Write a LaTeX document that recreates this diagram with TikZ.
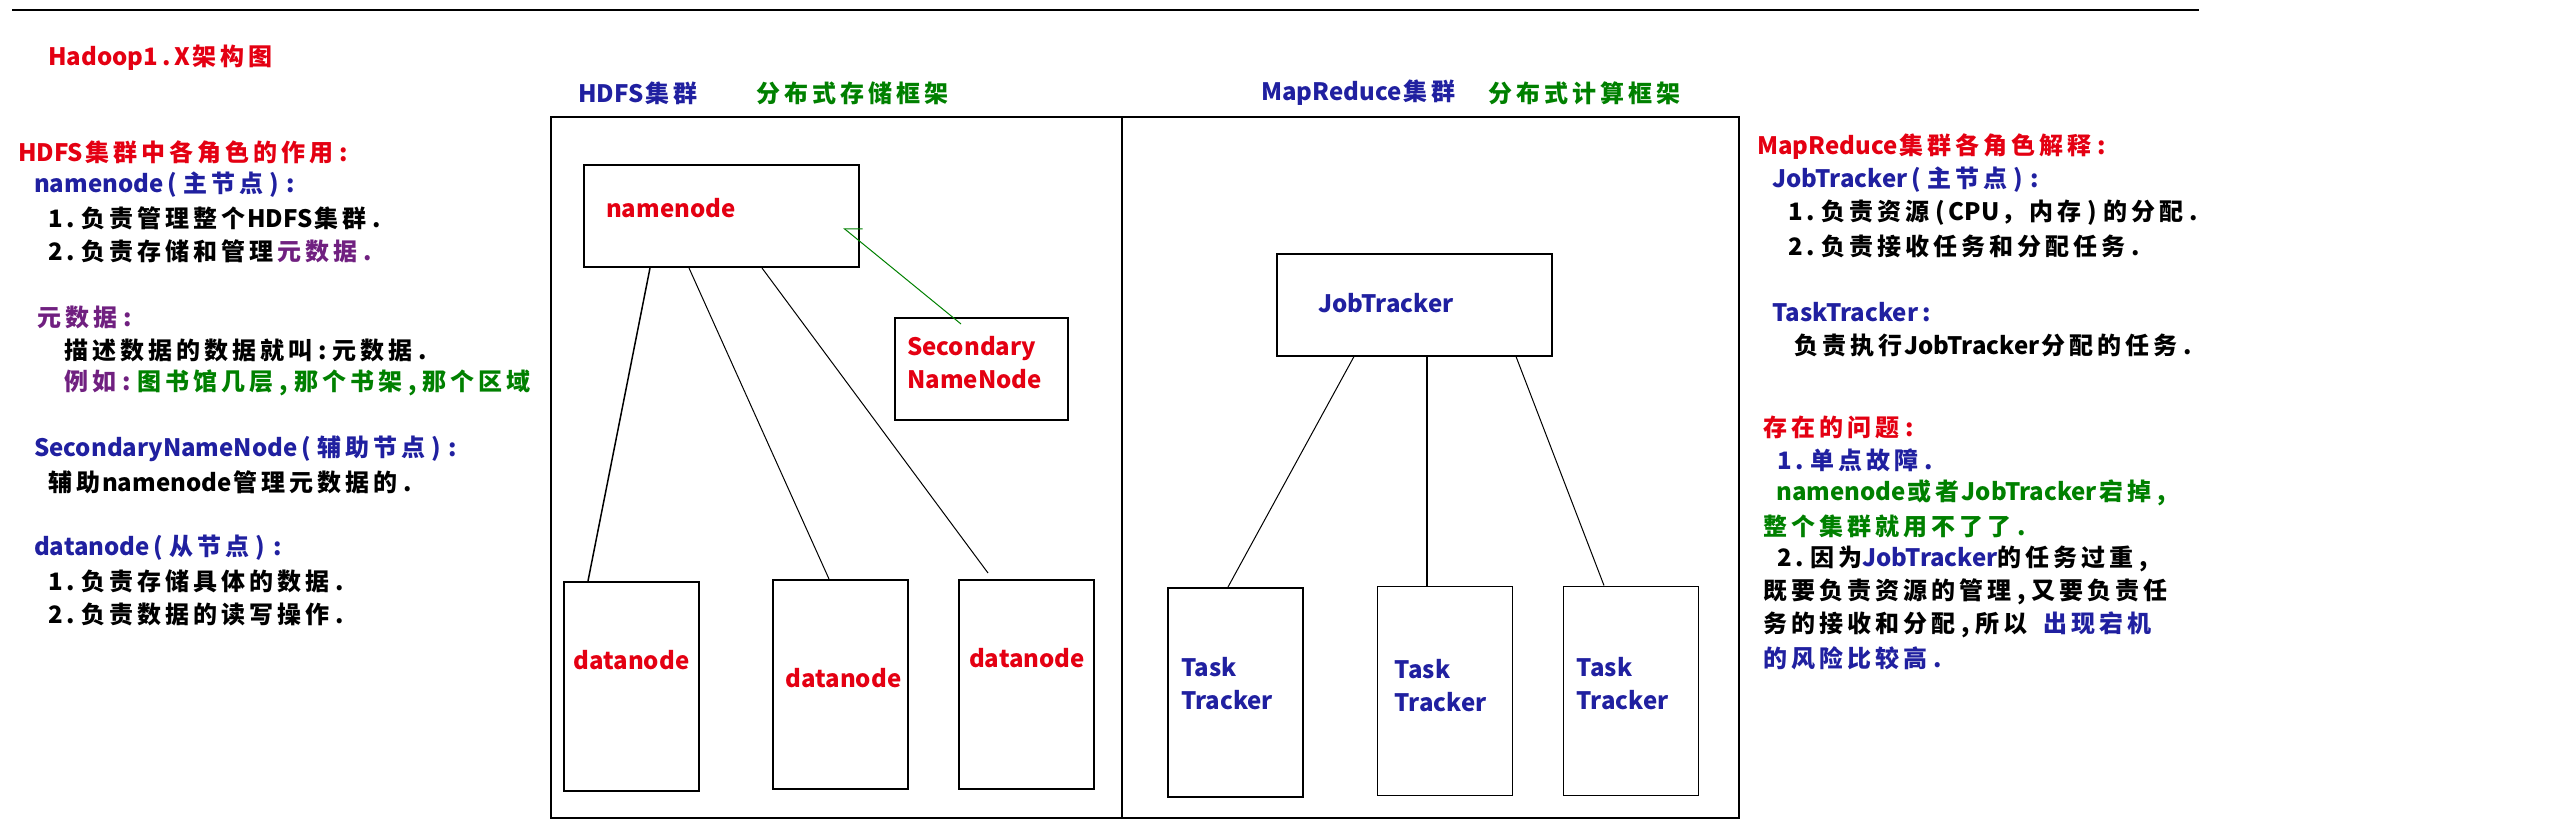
\documentclass[tikz,border=0pt]{standalone}
\usepackage{fontspec}
\setmainfont{Noto Sans CJK SC}
\usetikzlibrary{arrows.meta}
\definecolor{hdred}{RGB}{228,0,18}
\definecolor{hdblue}{RGB}{32,32,160}
\definecolor{hdgreen}{RGB}{0,128,0}
\definecolor{hdpurple}{RGB}{112,32,128}

% wider cells for the Chinese characters and the punctuation
\chardef\hanclass=7
\chardef\punclass=8
\count255="3000
\loop
  \XeTeXcharclass\count255=\hanclass
  \advance\count255 by 1
  \ifnum\count255<"3040 \repeat
\count255="4E00
\loop
  \XeTeXcharclass\count255=\hanclass
  \advance\count255 by 1
  \ifnum\count255<"A000 \repeat
\count255="FF00
\loop
  \XeTeXcharclass\count255=\hanclass
  \advance\count255 by 1
  \ifnum\count255<"FFF0 \repeat
\XeTeXcharclass`\,=\punclass
\XeTeXcharclass`\.=\punclass
\XeTeXcharclass`\:=\punclass
\XeTeXcharclass`\(=\punclass
\XeTeXcharclass`\)=\punclass
\XeTeXinterchartokenstate=1
\XeTeXinterchartoks 0 \hanclass = {\kern2pt}
\XeTeXinterchartoks \hanclass 0 = {\kern2pt}
\XeTeXinterchartoks \hanclass \hanclass = {\kern4pt}
\XeTeXinterchartoks 0 \punclass = {\kern4pt}
\XeTeXinterchartoks \punclass 0 = {\kern4pt}
\XeTeXinterchartoks \hanclass \punclass = {\kern6pt}
\XeTeXinterchartoks \punclass \hanclass = {\kern6pt}
\XeTeXinterchartoks \punclass \punclass = {\kern8pt}

\begin{document}
\begin{tikzpicture}
    [
        x=1pt, y=-1pt,
        every node/.style={font=\bfseries\fontsize{24}{33}\selectfont},
        role/.style={rectangle, draw, line width=2pt, inner sep=0pt},
        master/.style={role, minimum width=275pt, minimum height=102pt},
        worker/.style={role, minimum width=135pt, minimum height=209pt},
        lbl/.style={inner sep=0pt},
        txt/.style={lbl, anchor=west},
        link/.style={line width=1pt},
        hint/.style={hdgreen, line width=1pt, -{Straight Barb[right, angle=78:18pt]}},
    ]
    \useasboundingbox (0,0) rectangle (2560,836);
    \draw [line width=2.5pt] (12,10) -- (2199,10);

    % the two clusters
    \draw [line width=2pt] (551,117) rectangle (1739,818);
    \draw [line width=2pt] (1122,117) -- (1122,818);
    \node (hdfs) at (578,93) [txt, hdblue] {HDFS集群};
    \node (hdfsnote) at (756,93) [txt, hdgreen] {分布式存储框架};
    \node (mr) at (1261,93) [txt, hdblue] {MapReduce集群};
    \node (mrnote) at (1488,93) [txt, hdgreen] {分布式计算框架};

    % HDFS
    \node (nn) at (721.5,216) [master] {};
    \node (snn) at (981.5,369) [role, minimum width=173pt, minimum height=102pt] {};
    \node (dn1) at (631.5,686.5) [worker] {};
    \node (dn2) at (840.5,684.5) [worker] {};
    \node (dn3) at (1026.5,684.5) [worker] {};
    \node (nnlbl) at (606,208) [txt, hdred] {namenode};
    \node (snnlbl) at (907,363) [txt, hdred, align=left] {Secondary\\NameNode};
    \node (dn1lbl) at (631.5,660) [lbl, hdred] {datanode};
    \node (dn2lbl) at (843.5,678) [lbl, hdred] {datanode};
    \node (dn3lbl) at (1027,658) [lbl, hdred] {datanode};
    \draw [line width=1.5pt] ([xshift=-71.5pt]nn.south) -- ([xshift=-43.5pt]dn1.north);
    \draw [link] ([xshift=-32.5pt]nn.south) -- ([xshift=-11.5pt]dn2.north);
    \draw [link] ([xshift=40.5pt]nn.south) -- ([xshift=-38.5pt, yshift=6pt]dn3.north);
    \coordinate (nnhook) at (843.5,228);
    \draw [hint] ([xshift=-20.5pt, yshift=-7pt]snn.north) -- (nnhook);

    % MapReduce
    \node (jt) at (1414,304.5) [master] {};
    \node (tt1) at (1235.5,692.5) [worker] {};
    \node (tt2) at (1444.5,690.5) [worker, line width=1pt] {};
    \node (tt3) at (1631,690.5) [worker, line width=1pt] {};
    \node (jtlbl) at (1318,303) [txt, hdblue] {JobTracker};
    \node (tt1lbl) at (1181,683.5) [txt, hdblue, align=left] {Task\\Tracker};
    \node (tt2lbl) at (1394.5,685.5) [txt, hdblue, align=left] {Task\\Tracker};
    \node (tt3lbl) at (1576.5,683.5) [txt, hdblue, align=left] {Task\\Tracker};
    \draw [link] ([xshift=-60pt]jt.south) -- ([xshift=-7.5pt]tt1.north);
    \draw [line width=2pt] ([xshift=13pt]jt.south) -- ([xshift=-17.5pt]tt2.north);
    \draw [link] ([xshift=102pt]jt.south) -- ([xshift=-27pt]tt3.north);

    % notes on the left
    \node (title) at (48,58) [txt, hdred] {Hadoop1.X架构图};
    \node (hdfsrole) at (18,152) [txt, hdred] {HDFS集群中各角色的作用:};
    \node (nnrole) at (34,185) [txt, hdblue] {namenode(主节点):};
    \node (nnduty1) at (48,218) [txt] {1.负责管理整个HDFS集群.};
    \node (nnduty2) at (48,251) [txt] {2.负责存储和管理\kern4pt\textcolor{hdpurple}{元数据.}};
    \node (meta) at (37.5,317) [txt, hdpurple] {元数据:};
    \node (metadef) at (64,350) [txt] {描述数据的数据就叫:元数据.};
    \node (metaeg) at (64,383) [txt, hdpurple] {例如: \textcolor{hdgreen}{图书馆几层,那个书架,那个区域}};
    \node (snnrole) at (34,449) [txt, hdblue] {SecondaryNameNode(辅助节点):};
    \node (snnduty) at (48,482) [txt] {辅助namenode管理元数据的.};
    \node (dnrole) at (34,548) [txt, hdblue] {datanode(从节点):};
    \node (dnduty1) at (48,581) [txt] {1.负责存储具体的数据.};
    \node (dnduty2) at (48,614) [txt] {2.负责数据的读写操作.};

    % notes on the right
    \node (mrrole) at (1757,147) [txt, hdred] {MapReduce集群各角色解释:};
    \node (jtrole) at (1772,180) [txt, hdblue] {JobTracker(主节点):};
    \node (jtduty1) at (1788,213) [txt] {1.负责资源(CPU，内存)的分配.};
    \node (jtduty2) at (1788,246) [txt] {2.负责接收任务和分配任务.};
    \node (ttrole) at (1772,312) [txt, hdblue] {TaskTracker:};
    \node (ttduty) at (1794,345) [txt] {负责执行JobTracker分配的任务.};
    \node (issue) at (1763,427) [txt, hdred] {存在的问题:};
    \node (issue1) at (1777,460) [txt, hdblue] {1.单点故障.};
    \node (issue1a) at (1776,493) [txt, hdgreen] {namenode或者JobTracker宕掉,};
    \node (issue1b) at (1763,526) [txt, hdgreen] {整个集群就用不了了.};
    \node (issue2) at (1777,559) [txt] {2.因为\textcolor{hdblue}{JobTracker}的任务过重,};
    \node (issue2a) at (1763,592) [txt] {既要负责资源的管理,又要负责任};
    \node (issue2b) at (1763,625) [txt] {务的接收和分配,所以\hspace{16pt}\textcolor{hdblue}{出现宕机}};
    \node (issue2c) at (1763,658) [txt, hdblue] {的风险比较高.};
\end{tikzpicture}
\end{document}
